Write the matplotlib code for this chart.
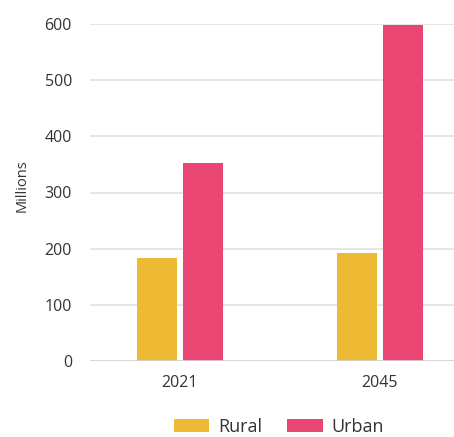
import matplotlib.pyplot as plt
import numpy as np

# data
years = ['2021', '2045']
rural = [183, 192]
urban = [353, 598]
yticks = [0, 100, 200, 300, 400, 500, 600]

plt.rcParams['font.family'] = ['Open Sans', 'DejaVu Sans']

fig = plt.figure(figsize=(4.54, 4.37), dpi=100)
ax = fig.add_axes([90 / 454, 1 - 361 / 437, 364 / 454, 337 / 437])

x = np.arange(len(years))
w = 0.2
ax.bar(x - 0.115, rural, w, color='#EFBA33', label='Rural', zorder=3)
ax.bar(x + 0.115, urban, w, color='#E94674', label='Urban', zorder=3)

ax.set_ylim(0, 600)
ax.set_xlim(-0.45, 1.37)
ax.set_yticks(yticks)
ax.set_xticks(x)
ax.set_xticklabels(years)
ax.yaxis.grid(True, color='#e2e2e2', linewidth=1.2, zorder=0)
ax.tick_params(length=0, labelsize=11.5, labelcolor='#333333')
ax.tick_params(axis='y', pad=13)
ax.tick_params(axis='x', pad=10)
for s in ax.spines.values():
    s.set_visible(False)
ax.axhline(0, color='#d6d6d6', linewidth=1.2, zorder=4)

fig.text(22 / 454, 1 - 186 / 437, 'Millions', rotation=90, fontsize=10.5,
         color='#333333', ha='center', va='center')

leg = fig.legend(loc='center', bbox_to_anchor=(279 / 454, 1 - 427 / 437),
                 ncol=2, frameon=False, fontsize=13, handlelength=1.95,
                 handleheight=0.7, columnspacing=1.4, handletextpad=0.5)
for t in leg.get_texts():
    t.set_color('#333333')

fig.savefig('out.png', dpi=100)
